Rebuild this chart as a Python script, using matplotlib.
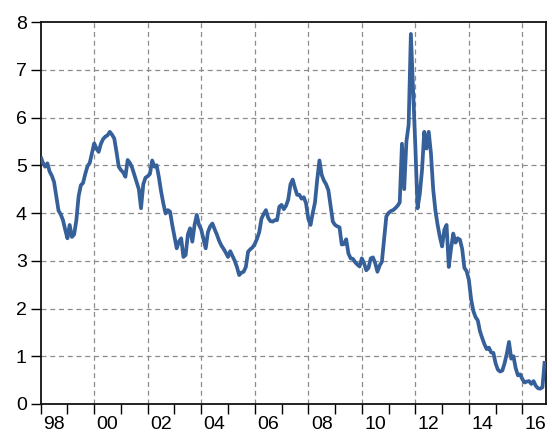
import numpy as np
import matplotlib
matplotlib.use("Agg")
import matplotlib.pyplot as plt
from matplotlib.ticker import FixedLocator, FixedFormatter

# Monthly series, January 1998 onwards (one list per calendar year)
y1998 = [5.18, 5.05, 4.97, 5.04, 4.87, 4.78, 4.65, 4.35, 4.05, 3.97, 3.85, 3.65]
y1999 = [3.47, 3.75, 3.50, 3.55, 3.85, 4.35, 4.58, 4.63, 4.82, 4.98, 5.05, 5.25]
y2000 = [5.46, 5.35, 5.28, 5.45, 5.55, 5.60, 5.63, 5.70, 5.64, 5.56, 5.28, 4.97]
y2001 = [4.90, 4.85, 4.76, 5.11, 5.05, 4.95, 4.80, 4.65, 4.50, 4.10, 4.60, 4.74]
y2002 = [4.77, 4.82, 5.10, 4.97, 5.00, 4.75, 4.45, 4.20, 3.99, 4.06, 4.03, 3.75]
y2003 = [3.50, 3.26, 3.40, 3.47, 3.08, 3.12, 3.55, 3.68, 3.40, 3.75, 3.96, 3.75]
y2004 = [3.65, 3.45, 3.26, 3.60, 3.72, 3.78, 3.66, 3.55, 3.42, 3.32, 3.25, 3.17]
y2005 = [3.08, 3.20, 3.10, 3.00, 2.87, 2.70, 2.75, 2.77, 2.87, 3.19, 3.24, 3.28]
y2006 = [3.35, 3.46, 3.60, 3.88, 3.98, 4.06, 3.90, 3.83, 3.82, 3.85, 3.85, 4.13]
y2007 = [4.17, 4.08, 4.15, 4.28, 4.60, 4.70, 4.53, 4.38, 4.38, 4.30, 4.33, 4.20]
y2008 = [3.88, 3.75, 4.00, 4.22, 4.70, 5.10, 4.80, 4.68, 4.60, 4.48, 4.15, 3.82]
y2009 = [3.75, 3.72, 3.70, 3.34, 3.35, 3.45, 3.15, 3.05, 3.04, 2.97, 2.92, 2.88]
y2010 = [3.05, 2.95, 2.80, 2.85, 3.05, 3.07, 2.95, 2.77, 2.90, 2.98, 3.45, 3.93]
y2011 = [4.00, 4.04, 4.06, 4.10, 4.15, 4.22, 5.45, 4.50, 5.50, 5.85, 7.75, 6.60]
y2012 = [5.40, 4.10, 4.40, 4.90, 5.70, 5.35, 5.70, 5.25, 4.50, 4.05, 3.75, 3.50]
y2013 = [3.30, 3.65, 3.75, 2.87, 3.25, 3.57, 3.38, 3.47, 3.44, 3.25, 2.85, 2.78]
y2014 = [2.60, 2.20, 1.95, 1.82, 1.75, 1.52, 1.38, 1.25, 1.15, 1.18, 1.08, 1.07]
y2015 = [0.85, 0.72, 0.68, 0.70, 0.85, 1.05, 1.30, 0.95, 1.00, 0.75, 0.60, 0.62]
y2016 = [0.52, 0.45, 0.47, 0.48, 0.42, 0.48, 0.38, 0.33, 0.32, 0.35, 0.90]

yearly = [y1998, y1999, y2000, y2001, y2002, y2003, y2004, y2005, y2006,
          y2007, y2008, y2009, y2010, y2011, y2012, y2013, y2014, y2015, y2016]
values = np.concatenate([np.asarray(v, dtype=float) for v in yearly])
t = 1998 + np.arange(len(values)) / 12.0

year_labels = ["98", "00", "02", "04", "06", "08", "10", "12", "14", "16"]
label_years = [1998, 2000, 2002, 2004, 2006, 2008, 2010, 2012, 2014, 2016]

plt.rcParams["font.family"] = ["Liberation Sans", "DejaVu Sans"]

fig = plt.figure(figsize=(5.52, 4.36), dpi=100)
ax = fig.add_axes([0.0737, 0.0734, 0.9153, 0.8761])

ax.plot(t, values, color="#36609a", lw=2.7, solid_joinstyle="round",
        solid_capstyle="butt", zorder=3)

ax.set_xlim(1998, 2016.88)
ax.set_ylim(0, 8)

# year ticks on every year, labels centred in the even years
ax.xaxis.set_major_locator(FixedLocator(np.arange(1998, 2017)))
ax.xaxis.set_major_formatter(FixedFormatter([""] * 19))
ax.xaxis.set_minor_locator(FixedLocator([y + 0.5 for y in label_years]))
ax.xaxis.set_minor_formatter(FixedFormatter(year_labels))
ax.tick_params(axis="x", which="major", direction="out", length=7, width=1.0)
ax.tick_params(axis="x", which="minor", length=0, pad=9, labelsize=14)

ax.set_yticks(np.arange(0, 9))
ax.tick_params(axis="y", direction="out", length=7, width=1.0, pad=3, labelsize=14)

# dashed grid
for y in range(1, 8):
    ax.axhline(y, color="#8c8c8c", lw=0.9, ls=(0, (4, 3)), zorder=1)
for x in range(2000, 2017, 2):
    ax.axvline(x, color="#8c8c8c", lw=0.9, ls=(0, (4, 3)), zorder=1)

for s in ax.spines.values():
    s.set_linewidth(1.3)
    s.set_color("#111111")

fig.savefig("out.png", dpi=100)
